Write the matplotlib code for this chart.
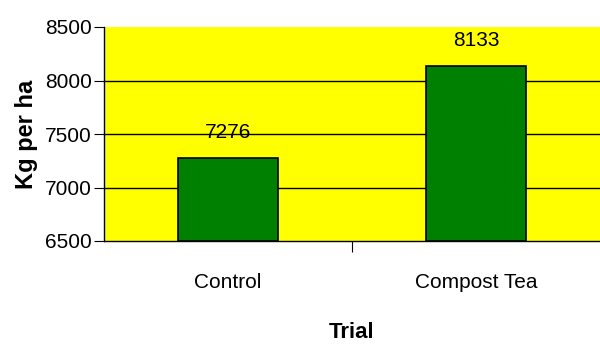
import matplotlib.pyplot as plt
import numpy as np

categories = ['Control', 'Compost Tea']
yields = [7276, 8133]
yticks = [6500, 7000, 7500, 8000, 8500]

plt.rcParams['font.family'] = ['Liberation Sans', 'DejaVu Sans']

fig = plt.figure(figsize=(6, 3.45), dpi=100)
ax = fig.add_axes([104 / 600, 1 - 241 / 345, 496 / 600, 214 / 345])
ax.set_facecolor('#ffff00')

x = np.arange(len(categories))
ax.bar(x, [v - 6500 for v in yields], bottom=6500, width=0.4,
       color='#008000', edgecolor='black', linewidth=1.2, zorder=3)
for xi, v in zip(x, yields):
    ax.text(xi, v + 150, str(v), ha='center', va='bottom', fontsize=15)

ax.set_xlim(-0.5, 1.5)
ax.set_ylim(6500, 8500)
ax.set_yticks(yticks)
ax.set_yticklabels([str(t) for t in yticks], fontsize=15)
for t in yticks[:-1]:
    ax.axhline(t, color='black', linewidth=1, zorder=1, clip_on=False)

ax.set_xticks([0.5])
ax.set_xticklabels([''])
ax.tick_params(axis='x', length=8, width=0.8)
ax.tick_params(axis='y', length=7, width=0.8, pad=2)
for xi, c in zip(x, categories):
    ax.text(xi, 6500 - 42 * 2000 / 214, c, ha='center', va='center',
            fontsize=15)

for s in ['top', 'right', 'bottom']:
    ax.spines[s].set_visible(False)
ax.spines['left'].set_linewidth(1)

ax.set_xlabel('Trial', fontsize=16, fontweight='bold', labelpad=47)
ax.set_ylabel('Kg per ha', fontsize=17, fontweight='bold', labelpad=5)

fig.savefig('out.png', dpi=100)
